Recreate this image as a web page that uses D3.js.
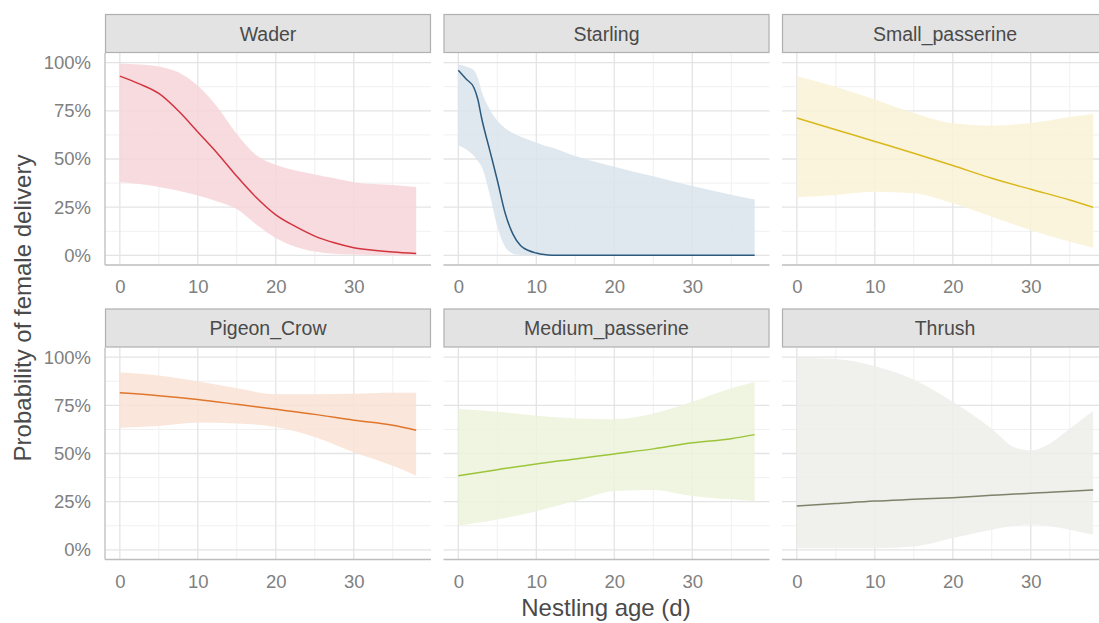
<!DOCTYPE html>
<html>
<head>
<meta charset="utf-8">
<script src="https://cdn.jsdelivr.net/npm/d3@7"></script>
<style>
  html, body { margin: 0; padding: 0; background: #ffffff; }
  svg { display: block; font-family: "Liberation Sans", Arial, sans-serif; }
</style>
</head>
<body>
<svg id="chart" width="1099" height="623"></svg>
<script>
// ---------------- data ----------------
const species = ["Wader", "Starling", "Small_passerine", "Pigeon_Crow", "Medium_passerine", "Thrush"];
const lineColors = ["#d2343f", "#2c5a7e", "#d9b81c", "#e0762c", "#9cc43a", "#7f8269"];
const ribbonColors = ["#f7d5d9", "#d9e4ec", "#faf2d6", "#f9e2d3", "#ecf3da", "#ededea"];

const xTicks = [0, 10, 20, 30];
const xMinorTicks = [5, 15, 25, 35];
const yTicks = [0, 0.25, 0.5, 0.75, 1];
const yMinorTicks = [0.125, 0.375, 0.625, 0.875];

const waderAge = [0, 2.5, 5, 7.5, 10, 12.5, 15, 17.5, 20, 22.5, 25, 27.5, 30, 32.5, 35, 38];
const waderFit = [0.93, 0.89, 0.84, 0.75, 0.64, 0.53, 0.41, 0.30, 0.21, 0.15, 0.10, 0.065, 0.04, 0.027, 0.017, 0.01];
const waderHi  = [0.995, 0.99, 0.98, 0.95, 0.88, 0.77, 0.63, 0.52, 0.47, 0.44, 0.42, 0.40, 0.38, 0.37, 0.365, 0.355];
const waderLo  = [0.38, 0.37, 0.355, 0.335, 0.31, 0.28, 0.24, 0.16, 0.09, 0.045, 0.02, 0.008, 0.004, 0.002, 0.001, 0];

const starlingAge = [0, 1, 2, 2.5, 3, 4, 5, 6, 7, 8, 9, 10, 11, 12, 15, 20, 25, 30, 35, 38];
const starlingFit = [0.96, 0.915, 0.87, 0.81, 0.71, 0.55, 0.39, 0.22, 0.11, 0.05, 0.025, 0.012, 0.004, 0.001, 0, 0, 0, 0, 0, 0];
const starlingHi  = [0.99, 0.98, 0.96, 0.92, 0.85, 0.76, 0.70, 0.66, 0.635, 0.615, 0.60, 0.585, 0.57, 0.56, 0.515, 0.46, 0.41, 0.36, 0.315, 0.29];
const starlingLo  = [0.57, 0.55, 0.515, 0.49, 0.46, 0.32, 0.15, 0.045, 0.01, 0.002, 0, 0, 0, 0, 0, 0, 0, 0, 0, 0];

const smallAge = [0, 5, 10, 15, 20, 25, 30, 35, 38];
const smallFit = [0.713, 0.652, 0.591, 0.530, 0.466, 0.40, 0.343, 0.287, 0.249];
const smallHi  = [0.93, 0.875, 0.809, 0.739, 0.685, 0.673, 0.687, 0.718, 0.734];
const smallLo  = [0.301, 0.313, 0.33, 0.322, 0.27, 0.20, 0.13, 0.07, 0.04];

const pigeonAge = [0, 5, 10, 15, 20, 25, 30, 35, 38];
const pigeonFit = [0.815, 0.80, 0.78, 0.755, 0.729, 0.703, 0.673, 0.647, 0.621];
const pigeonHi  = [0.92, 0.905, 0.875, 0.838, 0.808, 0.808, 0.81, 0.815, 0.815];
const pigeonLo  = [0.633, 0.643, 0.661, 0.656, 0.638, 0.586, 0.507, 0.437, 0.385];

const mediumAge = [0, 5, 10, 15, 20, 25, 30, 35, 38];
const mediumFit = [0.385, 0.416, 0.446, 0.472, 0.498, 0.524, 0.556, 0.577, 0.598];
const mediumHi  = [0.731, 0.717, 0.696, 0.682, 0.678, 0.708, 0.769, 0.839, 0.871];
const mediumLo  = [0.126, 0.157, 0.201, 0.253, 0.306, 0.311, 0.28, 0.262, 0.253];

const thrushAge = [0, 5, 10, 15, 20, 25, 28, 30, 32, 35, 38];
const thrushFit = [0.227, 0.24, 0.253, 0.262, 0.271, 0.283, 0.29, 0.294, 0.298, 0.304, 0.311];
const thrushHi  = [0.995, 0.99, 0.953, 0.883, 0.769, 0.629, 0.53, 0.516, 0.542, 0.629, 0.72];
const thrushLo  = [0.009, 0.009, 0.009, 0.017, 0.061, 0.105, 0.125, 0.131, 0.125, 0.105, 0.079];

const xTitle = "Nestling age (d)";
const yTitle = "Probability of female delivery";

// ---------------- build ----------------
const ages = [waderAge, starlingAge, smallAge, pigeonAge, mediumAge, thrushAge];
const fits = [waderFit, starlingFit, smallFit, pigeonFit, mediumFit, thrushFit];
const his  = [waderHi, starlingHi, smallHi, pigeonHi, mediumHi, thrushHi];
const los  = [waderLo, starlingLo, smallLo, pigeonLo, mediumLo, thrushLo];

const svg = d3.select("#chart");
const panelLefts = [105, 443.5, 782];
const panelW = 326;
const rowTops = [14, 308.5];
const stripH = 39;
const panelH = 212;
const xMax = 38;
const xPad = xMax * 0.05;
const yPad = 0.05;

const tickFont = "18.5px";
const tickColor = "#808080";

species.forEach((name, i) => {
  const col = i % 3, row = Math.floor(i / 3);
  const left = panelLefts[col];
  const stripTop = rowTops[row];
  const top = stripTop + stripH;
  const bottom = top + panelH;

  const x = d3.scaleLinear().domain([-xPad, xMax + xPad]).range([left, left + panelW]);
  const y = d3.scaleLinear().domain([-yPad, 1 + yPad]).range([bottom, top]);

  const g = svg.append("g");

  // minor grid
  g.selectAll(".xminor").data(xMinorTicks).join("line")
    .attr("x1", d => x(d)).attr("x2", d => x(d)).attr("y1", top).attr("y2", bottom)
    .attr("stroke", "#f0f0f0").attr("stroke-width", 1);
  g.selectAll(".yminor").data(yMinorTicks).join("line")
    .attr("y1", d => y(d)).attr("y2", d => y(d)).attr("x1", left).attr("x2", left + panelW)
    .attr("stroke", "#f0f0f0").attr("stroke-width", 1);
  // major grid
  g.selectAll(".xmajor").data(xTicks).join("line")
    .attr("x1", d => x(d)).attr("x2", d => x(d)).attr("y1", top).attr("y2", bottom)
    .attr("stroke", "#e4e4e4").attr("stroke-width", 1.3);
  g.selectAll(".ymajor").data(yTicks).join("line")
    .attr("y1", d => y(d)).attr("y2", d => y(d)).attr("x1", left).attr("x2", left + panelW)
    .attr("stroke", "#e4e4e4").attr("stroke-width", 1.3);

  // data
  const pts = ages[i].map((a, k) => ({ a, f: fits[i][k], hi: his[i][k], lo: los[i][k] }));
  const area = d3.area().x(d => x(d.a)).y0(d => y(d.lo)).y1(d => y(d.hi)).curve(d3.curveMonotoneX);
  const line = d3.line().x(d => x(d.a)).y(d => y(d.f)).curve(d3.curveMonotoneX);

  g.append("path").datum(pts).attr("d", area)
    .attr("fill", ribbonColors[i]).attr("fill-opacity", 0.85).attr("stroke", "none");
  g.append("path").datum(pts).attr("d", line)
    .attr("fill", "none").attr("stroke", lineColors[i]).attr("stroke-width", 1.5);

  // axis lines
  g.append("line").attr("x1", left).attr("x2", left + panelW).attr("y1", bottom).attr("y2", bottom)
    .attr("stroke", "#bdbdbd").attr("stroke-width", 1.3);
  if (col === 0) {
    g.append("line").attr("x1", left).attr("x2", left).attr("y1", top).attr("y2", bottom)
      .attr("stroke", "#bdbdbd").attr("stroke-width", 1.3);
  }

  // x axis labels
  const xa = g.append("g").attr("transform", `translate(0,${bottom})`)
    .call(d3.axisBottom(x).tickValues(xTicks).tickSize(0).tickPadding(15).tickFormat(d3.format("d")));
  xa.select(".domain").remove();
  xa.selectAll("text").attr("fill", tickColor).style("font-size", tickFont)
    .style("font-family", "'Liberation Sans', Arial, sans-serif");

  // y axis labels (first column)
  if (col === 0) {
    const ya = g.append("g").attr("transform", `translate(${left},0)`)
      .call(d3.axisLeft(y).tickValues(yTicks).tickSize(0).tickPadding(14).tickFormat(d3.format(".0%")));
    ya.select(".domain").remove();
    ya.selectAll("text").attr("fill", tickColor).style("font-size", tickFont)
      .style("font-family", "'Liberation Sans', Arial, sans-serif");
  }

  // strip
  g.append("rect").attr("x", left + 0.5).attr("y", stripTop + 0.5)
    .attr("width", panelW - 1).attr("height", stripH - 1)
    .attr("fill", "#e3e3e3").attr("stroke", "#b0b0b0").attr("stroke-width", 1.2);
  g.append("text").attr("x", left + panelW / 2).attr("y", stripTop + stripH / 2)
    .attr("text-anchor", "middle").attr("dominant-baseline", "central")
    .attr("fill", "#4a4a4a").style("font-size", "19.5px")
    .text(name);
});

// axis titles
svg.append("text")
  .attr("x", 606).attr("y", 616)
  .attr("text-anchor", "middle")
  .attr("fill", "#4a4a4a").style("font-size", "24px")
  .text(xTitle);

svg.append("text")
  .attr("transform", "translate(31,308) rotate(-90)")
  .attr("text-anchor", "middle")
  .attr("fill", "#4a4a4a").style("font-size", "24px")
  .text(yTitle);
</script>
</body>
</html>
